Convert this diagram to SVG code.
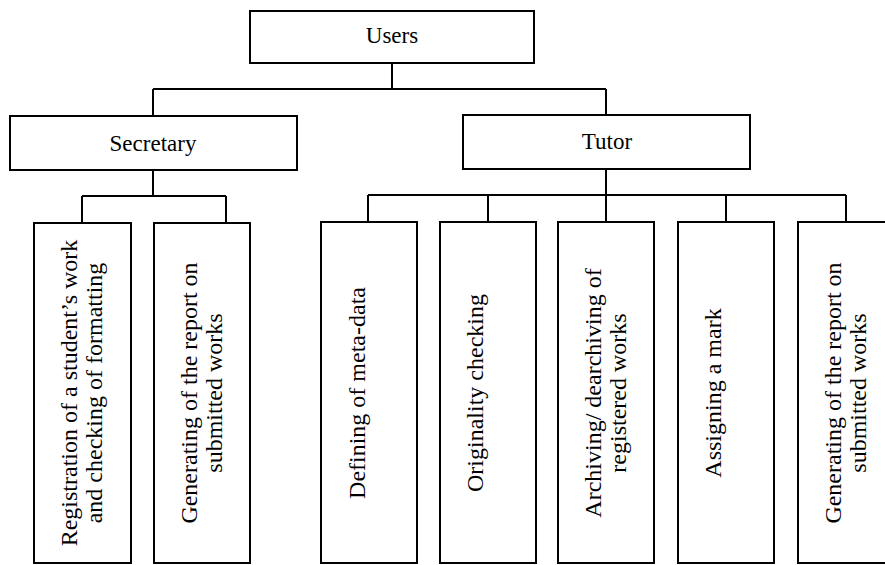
<svg xmlns="http://www.w3.org/2000/svg" width="885" height="565" viewBox="0 0 885 565">
<style>
.box{fill:#fff;stroke:#000;stroke-width:2}
.conn{fill:none;stroke:#000;stroke-width:2}
.h{font-family:"Liberation Serif","Times New Roman",serif;font-size:23px;fill:#000;text-anchor:middle}
.v{font-family:"Liberation Serif","Times New Roman",serif;font-size:24px;fill:#000;text-anchor:middle}
</style>
<rect width="885" height="565" fill="#fff"/>
<g id="connectors">
<path class="conn" d="M392,63 V89 M153,89 H606 M153,89 V116 M606,89 V115"/>
<path class="conn" d="M153,170 V196 M82,196 H226 M82,196 V223 M226,196 V223"/>
<path class="conn" d="M606,169 V195 M368,195 H846 M368,195 V222 M488,195 V222 M606,195 V222 M726,195 V222 M846,195 V222"/>
</g>
<g id="users">
<rect class="box" x="250" y="11" width="284" height="52"/>
<text class="h" x="392" y="43">Users</text>
</g>
<g id="secretary">
<rect class="box" x="10" y="116" width="287" height="54"/>
<text class="h" x="153" y="151">Secretary</text>
</g>
<g id="tutor">
<rect class="box" x="463" y="115" width="287" height="54"/>
<text class="h" x="607" y="149">Tutor</text>
</g>
<g id="registration">
<rect class="box" x="34" y="223" width="97" height="340"/>
<text class="v" transform="translate(77,393) rotate(-90)"><tspan x="0" y="0">Registration of a student’s work</tspan><tspan x="0" y="25">and checking of formatting</tspan></text>
</g>
<g id="sec-report">
<rect class="box" x="154" y="223" width="96" height="340"/>
<text class="v" transform="translate(197,393) rotate(-90)"><tspan x="0" y="0">Generating of the report on</tspan><tspan x="0" y="25">submitted works</tspan></text>
</g>
<g id="metadata">
<rect class="box" x="321" y="222" width="96" height="341"/>
<text class="v" transform="translate(365,393) rotate(-90)">Defining of meta-data</text>
</g>
<g id="originality">
<rect class="box" x="440" y="222" width="96" height="341"/>
<text class="v" transform="translate(483,393) rotate(-90)">Originality checking</text>
</g>
<g id="archiving">
<rect class="box" x="558" y="222" width="96" height="341"/>
<text class="v" transform="translate(601,393) rotate(-90)"><tspan x="0" y="0">Archiving/ dearchiving of</tspan><tspan x="0" y="25">registered works</tspan></text>
</g>
<g id="mark">
<rect class="box" x="678" y="222" width="96" height="341"/>
<text class="v" transform="translate(721,393) rotate(-90)">Assigning a mark</text>
</g>
<g id="tutor-report">
<rect class="box" x="798" y="222" width="96" height="341"/>
<text class="v" transform="translate(841,393) rotate(-90)"><tspan x="0" y="0">Generating of the report on</tspan><tspan x="0" y="25">submitted works</tspan></text>
</g>
</svg>
